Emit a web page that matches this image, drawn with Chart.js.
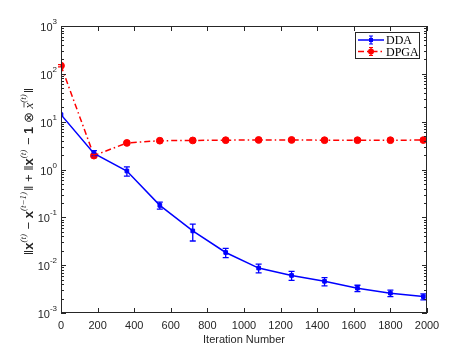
<!DOCTYPE html>
<html>
<head>
<meta charset="utf-8">
<script src="https://cdn.jsdelivr.net/npm/chart.js@4.4.1/dist/chart.umd.min.js"></script>
<style>
    html, body { margin: 0; padding: 0; background: #fff; }
    #wrap { width: 471px; height: 353px; }
</style>
</head>
<body>
<div id="wrap"><canvas id="chart" width="471" height="353"></canvas></div>
<script>
// Data
const iterations = [0, 180, 360, 540, 720, 900, 1080, 1260, 1440, 1620, 1800, 1980];
const ddaValues = [14, 2.17, 0.93, 0.178, 0.052, 0.0184, 0.0087, 0.0061, 0.0046, 0.0033, 0.0026, 0.0022];
const ddaErrors = [0, 0.3, 0.2, 0.03, 0.02, 0.004, 0.0018, 0.0013, 0.0009, 0.0005, 0.0004, 0.00032];
const dpgaValues = [148, 1.95, 3.6, 4.0, 4.05, 4.1, 4.15, 4.15, 4.1, 4.1, 4.1, 4.12];
const dpgaErrors = [8, 0.12, 0.2, 0.2, 0.2, 0.2, 0.2, 0.2, 0.2, 0.2, 0.2, 0.2];
const seriesNames = ['DDA', 'DPGA'];
const xTickValues = [0, 200, 400, 600, 800, 1000, 1200, 1400, 1600, 1800, 2000];
const yTickExponents = [-3, -2, -1, 0, 1, 2, 3];
const xTitle = 'Iteration Number';

const BLUE = '#0000ff';
const RED = '#ff0000';
const AXIS = '#262626';
const SANS = '"Liberation Sans", Arial, sans-serif';
const SERIF = '"Liberation Serif", "Times New Roman", serif';

function toPoints(values) {
    return iterations.map((x, i) => ({ x: x, y: values[i] }));
}

// Error bar MATLAB-style
const errorBarPlugin = {
    id: 'errorBars',
    afterDatasetsDraw(chart) {
        const ctx = chart.ctx;
        const xs = chart.scales.x, ys = chart.scales.y;
        const sets = [[ddaValues, ddaErrors, BLUE], [dpgaValues, dpgaErrors, RED]];
        ctx.save();
        sets.forEach(([vals, errs, color]) => {
            ctx.strokeStyle = color;
            ctx.lineWidth = 1.3;
            ctx.setLineDash([]);
            vals.forEach((v, i) => {
                if (!errs[i]) return;
                const x = xs.getPixelForValue(iterations[i]);
                const yTop = ys.getPixelForValue(v + errs[i]);
                const yBot = ys.getPixelForValue(Math.max(v - errs[i], 1e-6));
                ctx.beginPath();
                ctx.moveTo(x, yTop); ctx.lineTo(x, yBot);
                ctx.moveTo(x - 3, yTop); ctx.lineTo(x + 3, yTop);
                ctx.moveTo(x - 3, yBot); ctx.lineTo(x + 3, yBot);
                ctx.stroke();
            });
        });
        ctx.restore();
    }
};

// Kotak, tick, label sumbu dan legenda
const axesPlugin = {
    id: 'matlabAxes',
    afterDraw(chart) {
        const ctx = chart.ctx;
        const a = chart.chartArea;
        const xs = chart.scales.x, ys = chart.scales.y;
        ctx.save();
        ctx.strokeStyle = AXIS;
        ctx.lineWidth = 1;
        ctx.setLineDash([]);
        ctx.strokeRect(a.left + 0.5, a.top + 0.5, a.right - a.left - 1, a.bottom - a.top - 1);

        ctx.beginPath();
        xTickValues.forEach(v => {
            const x = Math.round(xs.getPixelForValue(v)) + 0.5;
            ctx.moveTo(x, a.bottom); ctx.lineTo(x, a.bottom - 5);
            ctx.moveTo(x, a.top); ctx.lineTo(x, a.top + 5);
        });
        yTickExponents.forEach(e => {
            const y = Math.round(ys.getPixelForValue(Math.pow(10, e))) + 0.5;
            ctx.moveTo(a.left, y); ctx.lineTo(a.left + 5, y);
            ctx.moveTo(a.right, y); ctx.lineTo(a.right - 5, y);
            if (e < 3) {
                for (let m = 2; m <= 9; m++) {
                    const ym = Math.round(ys.getPixelForValue(m * Math.pow(10, e))) + 0.5;
                    ctx.moveTo(a.left, ym); ctx.lineTo(a.left + 3, ym);
                    ctx.moveTo(a.right, ym); ctx.lineTo(a.right - 3, ym);
                }
            }
        });
        ctx.stroke();

        // label tick x
        ctx.fillStyle = AXIS;
        ctx.font = '11px ' + SANS;
        ctx.textAlign = 'center';
        ctx.textBaseline = 'top';
        xTickValues.forEach(v => {
            ctx.fillText(String(v), xs.getPixelForValue(v), a.bottom + 7);
        });
        ctx.fillText(xTitle, (a.left + a.right) / 2, a.bottom + 21);

        // label tick y (10^n)
        yTickExponents.forEach(e => {
            const y = ys.getPixelForValue(Math.pow(10, e));
            const exp = String(e);
            ctx.font = '8px ' + SANS;
            const we = ctx.measureText(exp).width;
            ctx.textAlign = 'left';
            ctx.textBaseline = 'alphabetic';
            ctx.fillText(exp, a.left - 4 - we, y - 2);
            ctx.font = '11px ' + SANS;
            ctx.textAlign = 'right';
            ctx.textBaseline = 'middle';
            ctx.fillText('10', a.left - 4 - we, y + 2);
        });

        // judul sumbu y
        const parts = [
            ['\u2016', 'n'], ['x', 'b'], ['(t)', 's'], [' \u2212 ', 'n'], ['x', 'b'], ['(t\u22121)', 's'],
            ['\u2016 + \u2016', 'n'], ['x', 'b'], ['(t)', 's'], [' \u2212 ', 'n'], ['1', 'b'],
            [' \u2297 ', 'n'], ['x', 'i'], ['(t)', 's'], ['\u2016', 'n']
        ];
        const fontFor = k => k === 'b' ? 'bold 13px ' + SANS
            : k === 'i' ? 'italic 13px ' + SERIF
            : k === 's' ? 'italic 9px ' + SERIF
            : '13px ' + SANS;
        let total = 0;
        parts.forEach(p => { ctx.font = fontFor(p[1]); total += ctx.measureText(p[0]).width + (p[1] === 's' ? 1 : 0); });
        ctx.translate(28, (a.top + a.bottom) / 2 + 2);
        ctx.rotate(-Math.PI / 2);
        ctx.textAlign = 'left';
        ctx.textBaseline = 'alphabetic';
        let cx = -total / 2;
        parts.forEach(p => {
            ctx.font = fontFor(p[1]);
            const w = ctx.measureText(p[0]).width;
            const yOff = p[1] === 's' ? -2.5 : 5;
            ctx.fillText(p[0], cx, yOff);
            if (p[1] === 'i') {
                ctx.beginPath();
                ctx.lineWidth = 0.8;
                ctx.moveTo(cx + 1, -4); ctx.lineTo(cx + w, -4);
                ctx.strokeStyle = AXIS;
                ctx.stroke();
            }
            cx += w + (p[1] === 's' ? 1 : 0);
        });
        ctx.restore();

        // legenda
        ctx.save();
        const lx = 355, ly = 32, lw = 64, lh = 26;
        ctx.fillStyle = '#fff';
        ctx.fillRect(lx, ly, lw, lh);
        ctx.strokeStyle = AXIS;
        ctx.lineWidth = 1;
        ctx.strokeRect(lx + 0.5, ly + 0.5, lw, lh);
        const rows = [[BLUE, [], 'rect'], [RED, [6, 3, 1.5, 3], 'circle']];
        rows.forEach((r, i) => {
            const y = ly + 8 + i * 11.5;
            ctx.strokeStyle = r[0];
            ctx.fillStyle = r[0];
            ctx.lineWidth = 1.5;
            ctx.setLineDash(r[1]);
            ctx.beginPath();
            ctx.moveTo(lx + 3, y); ctx.lineTo(lx + 29, y);
            ctx.stroke();
            ctx.setLineDash([]);
            ctx.lineWidth = 1.2;
            ctx.beginPath();
            ctx.moveTo(lx + 16, y - 4); ctx.lineTo(lx + 16, y + 4);
            ctx.moveTo(lx + 14, y - 4); ctx.lineTo(lx + 18, y - 4);
            ctx.moveTo(lx + 14, y + 4); ctx.lineTo(lx + 18, y + 4);
            ctx.stroke();
            ctx.beginPath();
            if (r[2] === 'rect') ctx.rect(lx + 14, y - 2, 4, 4);
            else ctx.arc(lx + 16, y, 3, 0, Math.PI * 2);
            ctx.fill();
            ctx.fillStyle = '#000';
            ctx.font = '12px ' + SERIF;
            ctx.textAlign = 'left';
            ctx.textBaseline = 'middle';
            ctx.fillText(seriesNames[i], lx + 31, y + 1);
        });
        ctx.restore();
    }
};

const chart = new Chart(document.getElementById('chart').getContext('2d'), {
    type: 'line',
    data: {
        datasets: [
            {
                label: seriesNames[0],
                data: toPoints(ddaValues),
                borderColor: BLUE,
                backgroundColor: BLUE,
                borderWidth: 1.5,
                pointStyle: 'rect',
                pointRadius: 2.6,
                pointBorderWidth: 1,
                tension: 0
            },
            {
                label: seriesNames[1],
                data: toPoints(dpgaValues),
                borderColor: RED,
                backgroundColor: RED,
                borderWidth: 1.5,
                borderDash: [6, 3, 1.5, 3],
                pointStyle: 'circle',
                pointRadius: 3.4,
                pointBorderWidth: 1,
                tension: 0
            }
        ]
    },
    options: {
        responsive: false,
        animation: false,
        devicePixelRatio: 1,
        layout: { padding: { left: 61, right: 44, top: 26, bottom: 40 } },
        scales: {
            x: { type: 'linear', min: 0, max: 2000, display: false },
            y: { type: 'logarithmic', min: 0.001, max: 1000, display: false }
        },
        plugins: {
            legend: { display: false },
            tooltip: { enabled: false }
        }
    },
    plugins: [errorBarPlugin, axesPlugin]
});
</script>
</body>
</html>
